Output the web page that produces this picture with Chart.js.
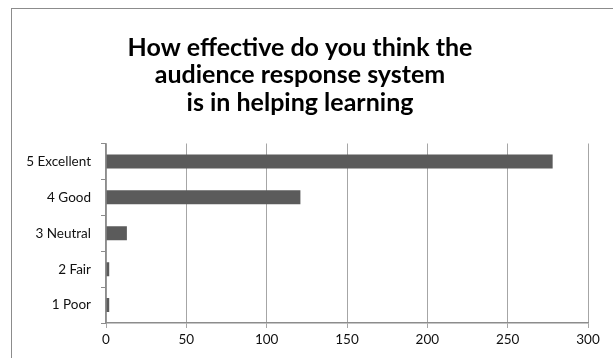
<!DOCTYPE html>
<html>
<head>
<meta charset="utf-8">
<script src="https://cdn.jsdelivr.net/npm/chart.js@4"></script>
<style>
  html, body { margin: 0; padding: 0; background: #fff; overflow: hidden; }
  #frame {
    position: absolute; left: 11px; top: 8px; width: 606px; height: 360px;
    border-top: 1.5px solid #8c8c8c; border-left: 1.5px solid #8c8c8c;
  }
</style>
</head>
<body>
<div id="frame"><canvas id="barChart"></canvas></div>
<script>
const categories = ['5 Excellent', '4 Good', '3 Neutral', '2 Fair', '1 Poor'];
const responses = [278, 121, 13, 2, 2];
const titleLines = ['How effective do you think the', 'audience response system', 'is in helping learning'];

function createBarChart() {
  const ctx = document.getElementById('barChart');
  new Chart(ctx, {
    type: 'bar',
    data: {
      labels: categories,
      datasets: [{
        data: responses,
        backgroundColor: '#5b5b5b',
        barPercentage: 0.39,
        categoryPercentage: 1
      }]
    },
    options: {
      indexAxis: 'y',
      responsive: true,
      maintainAspectRatio: false,
      animation: false,
      layout: { padding: { left: 0, right: 30, top: 0, bottom: 0 } },
      plugins: {
        legend: { display: false },
        tooltip: { enabled: false },
        title: {
          display: true,
          text: titleLines,
          color: '#000',
          font: { family: 'Lato', size: 25, weight: 'bold', lineHeight: 1.1 },
          padding: { top: 25, bottom: 27 }
        }
      },
      scales: {
        x: {
          min: 0,
          max: 300,
          ticks: { stepSize: 50, color: '#111', font: { family: 'Lato', size: 13.5 }, padding: 4 },
          grid: { color: '#a6a6a6', tickLength: 5 },
          border: { color: '#8c8c8c', width: 1.5 },
          afterFit: (scale) => { scale.height = 46; }
        },
        y: {
          ticks: { color: '#111', font: { family: 'Lato', size: 13.5 }, padding: 10 },
          grid: { drawOnChartArea: false, offset: true, tickLength: 5, color: '#8c8c8c' },
          border: { color: '#8c8c8c', width: 1.5 },
          afterFit: (scale) => { scale.width = 94; }
        }
      }
    }
  });
}

createBarChart();
</script>
</body>
</html>
